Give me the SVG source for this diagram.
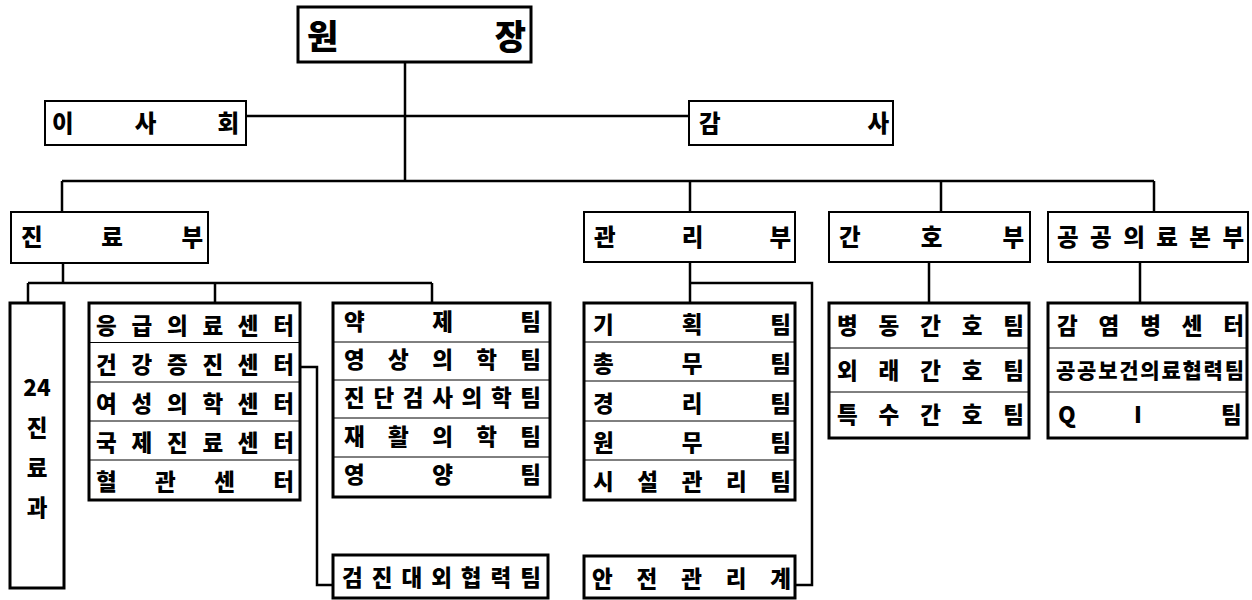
<svg xmlns="http://www.w3.org/2000/svg" width="1252" height="600" viewBox="0 0 1252 600">
<style>
.box{fill:#fff;stroke:#000;stroke-width:2}
.thick{fill:#fff;stroke:#000;stroke-width:3}
.div{stroke:#000;stroke-width:1}
.conn{fill:none;stroke:#000;stroke-width:2.5}
text{font-family:"Noto Sans CJK KR","Noto Sans CJK SC",sans-serif;font-weight:900;fill:#000;font-size:22.5px}
.t22{font-size:23.5px}
.t32{font-size:34px}
</style>
<rect width="1252" height="600" fill="#fff"/>
<g id="connectors">
<path class="conn" d="M405 62V181M246 116H689M62 181H1154M62 181V212M690 181V212M941 181V212M1154 181V212"/>
<path class="conn" d="M63 263V283M28 283H432M28 283V303M215 283V303M432 283V303"/>
<path class="conn" d="M300 367H317V585H333"/>
<path class="conn" d="M690 262V303M690 283H812V585H795"/>
<path class="conn" d="M929 262V303M1140 262V303"/>
</g>
<g id="n-director">
<rect class="thick" x="298" y="7" width="233" height="55"/>
<text class="t32" x="307" y="49" textLength="219" lengthAdjust="spacing">원 장</text>
</g>
<g id="n-board">
<rect class="box" x="45" y="101" width="201" height="44"/>
<text class="t22" x="52" y="132" textLength="187" lengthAdjust="spacing">이 사 회</text>
</g>
<g id="n-audit">
<rect class="box" x="689" y="101" width="204" height="44"/>
<text class="t22" x="699" y="132" textLength="190" lengthAdjust="spacing">감 사</text>
</g>
<g id="n-medical">
<rect class="box" x="11" y="212" width="197" height="51"/>
<text class="t22" x="21" y="246" textLength="182" lengthAdjust="spacing">진 료 부</text>
</g>
<g id="n-admin">
<rect class="box" x="584" y="212" width="211" height="50"/>
<text class="t22" x="594" y="246" textLength="197" lengthAdjust="spacing">관 리 부</text>
</g>
<g id="n-nursing">
<rect class="box" x="829" y="212" width="201" height="50"/>
<text class="t22" x="839" y="246" textLength="185" lengthAdjust="spacing">간 호 부</text>
</g>
<g id="n-public">
<rect class="box" x="1048" y="212" width="200" height="50"/>
<text class="t22" x="1057" y="246" textLength="187" lengthAdjust="spacing">공공의료본부</text>
</g>
<g id="n-24dept">
<rect class="thick" x="10" y="303" width="54" height="285"/>
<text x="37" y="396" text-anchor="middle">24</text>
<text x="37" y="436" text-anchor="middle">진</text>
<text x="37" y="476" text-anchor="middle">료</text>
<text x="37" y="516" text-anchor="middle">과</text>
</g>
<g id="n-centers">
<rect class="thick" x="89" y="303" width="211" height="197"/>
<path class="div" d="M89 342.5H300M89 382H300M89 421H300M89 460H300"/>
<text x="96" y="334" textLength="198" lengthAdjust="spacing">응 급 의 료 센 터</text>
<text x="96" y="373" textLength="198" lengthAdjust="spacing">건 강 증 진 센 터</text>
<text x="96" y="412" textLength="198" lengthAdjust="spacing">여 성 의 학 센 터</text>
<text x="96" y="451" textLength="198" lengthAdjust="spacing">국 제 진 료 센 터</text>
<text x="96" y="490" textLength="198" lengthAdjust="spacing">혈 관 센 터</text>
</g>
<g id="n-teams">
<rect class="thick" x="333" y="303" width="217" height="194"/>
<path class="div" d="M333 342H550M333 380H550M333 418H550M333 457H550"/>
<text x="344" y="330" textLength="197" lengthAdjust="spacing">약 제 팀</text>
<text x="344" y="368" textLength="197" lengthAdjust="spacing">영 상 의 학 팀</text>
<text x="344" y="406" textLength="197" lengthAdjust="spacing">진단검사의학팀</text>
<text x="344" y="445" textLength="197" lengthAdjust="spacing">재 활 의 학 팀</text>
<text x="344" y="483" textLength="197" lengthAdjust="spacing">영 양 팀</text>
</g>
<g id="n-checkup">
<rect class="thick" x="333" y="555" width="215" height="43"/>
<text x="342" y="586" textLength="199" lengthAdjust="spacing">검진대외협력팀</text>
</g>
<g id="n-admin-teams">
<rect class="thick" x="584" y="303" width="211" height="197"/>
<path class="div" d="M584 342H795M584 381H795M584 421H795M584 460H795"/>
<text x="593" y="333" textLength="198" lengthAdjust="spacing">기 획 팀</text>
<text x="593" y="372" textLength="198" lengthAdjust="spacing">총 무 팀</text>
<text x="593" y="412" textLength="198" lengthAdjust="spacing">경 리 팀</text>
<text x="593" y="451" textLength="198" lengthAdjust="spacing">원 무 팀</text>
<text x="593" y="490" textLength="198" lengthAdjust="spacing">시 설 관 리 팀</text>
</g>
<g id="n-safety">
<rect class="thick" x="584" y="556" width="211" height="42"/>
<text x="592" y="587" textLength="199" lengthAdjust="spacing">안 전 관 리 계</text>
</g>
<g id="n-nursing-teams">
<rect class="thick" x="829" y="303" width="200" height="135"/>
<path class="div" d="M829 348H1029M829 392H1029"/>
<text x="837" y="334" textLength="187" lengthAdjust="spacing">병 동 간 호 팀</text>
<text x="837" y="379" textLength="187" lengthAdjust="spacing">외 래 간 호 팀</text>
<text x="837" y="423" textLength="187" lengthAdjust="spacing">특 수 간 호 팀</text>
</g>
<g id="n-public-teams">
<rect class="thick" x="1048" y="303" width="199" height="135"/>
<path class="div" d="M1048 348H1247M1048 392H1247"/>
<text x="1057" y="334" textLength="187" lengthAdjust="spacing">감 염 병 센 터</text>
<text x="1056" y="378" textLength="187" lengthAdjust="spacing" style="font-size:21px;letter-spacing:-1px">공공보건의료협력팀</text>
<text x="1058 1100 1134 1180 1221" y="423">Q I 팀</text>
</g>
</svg>
